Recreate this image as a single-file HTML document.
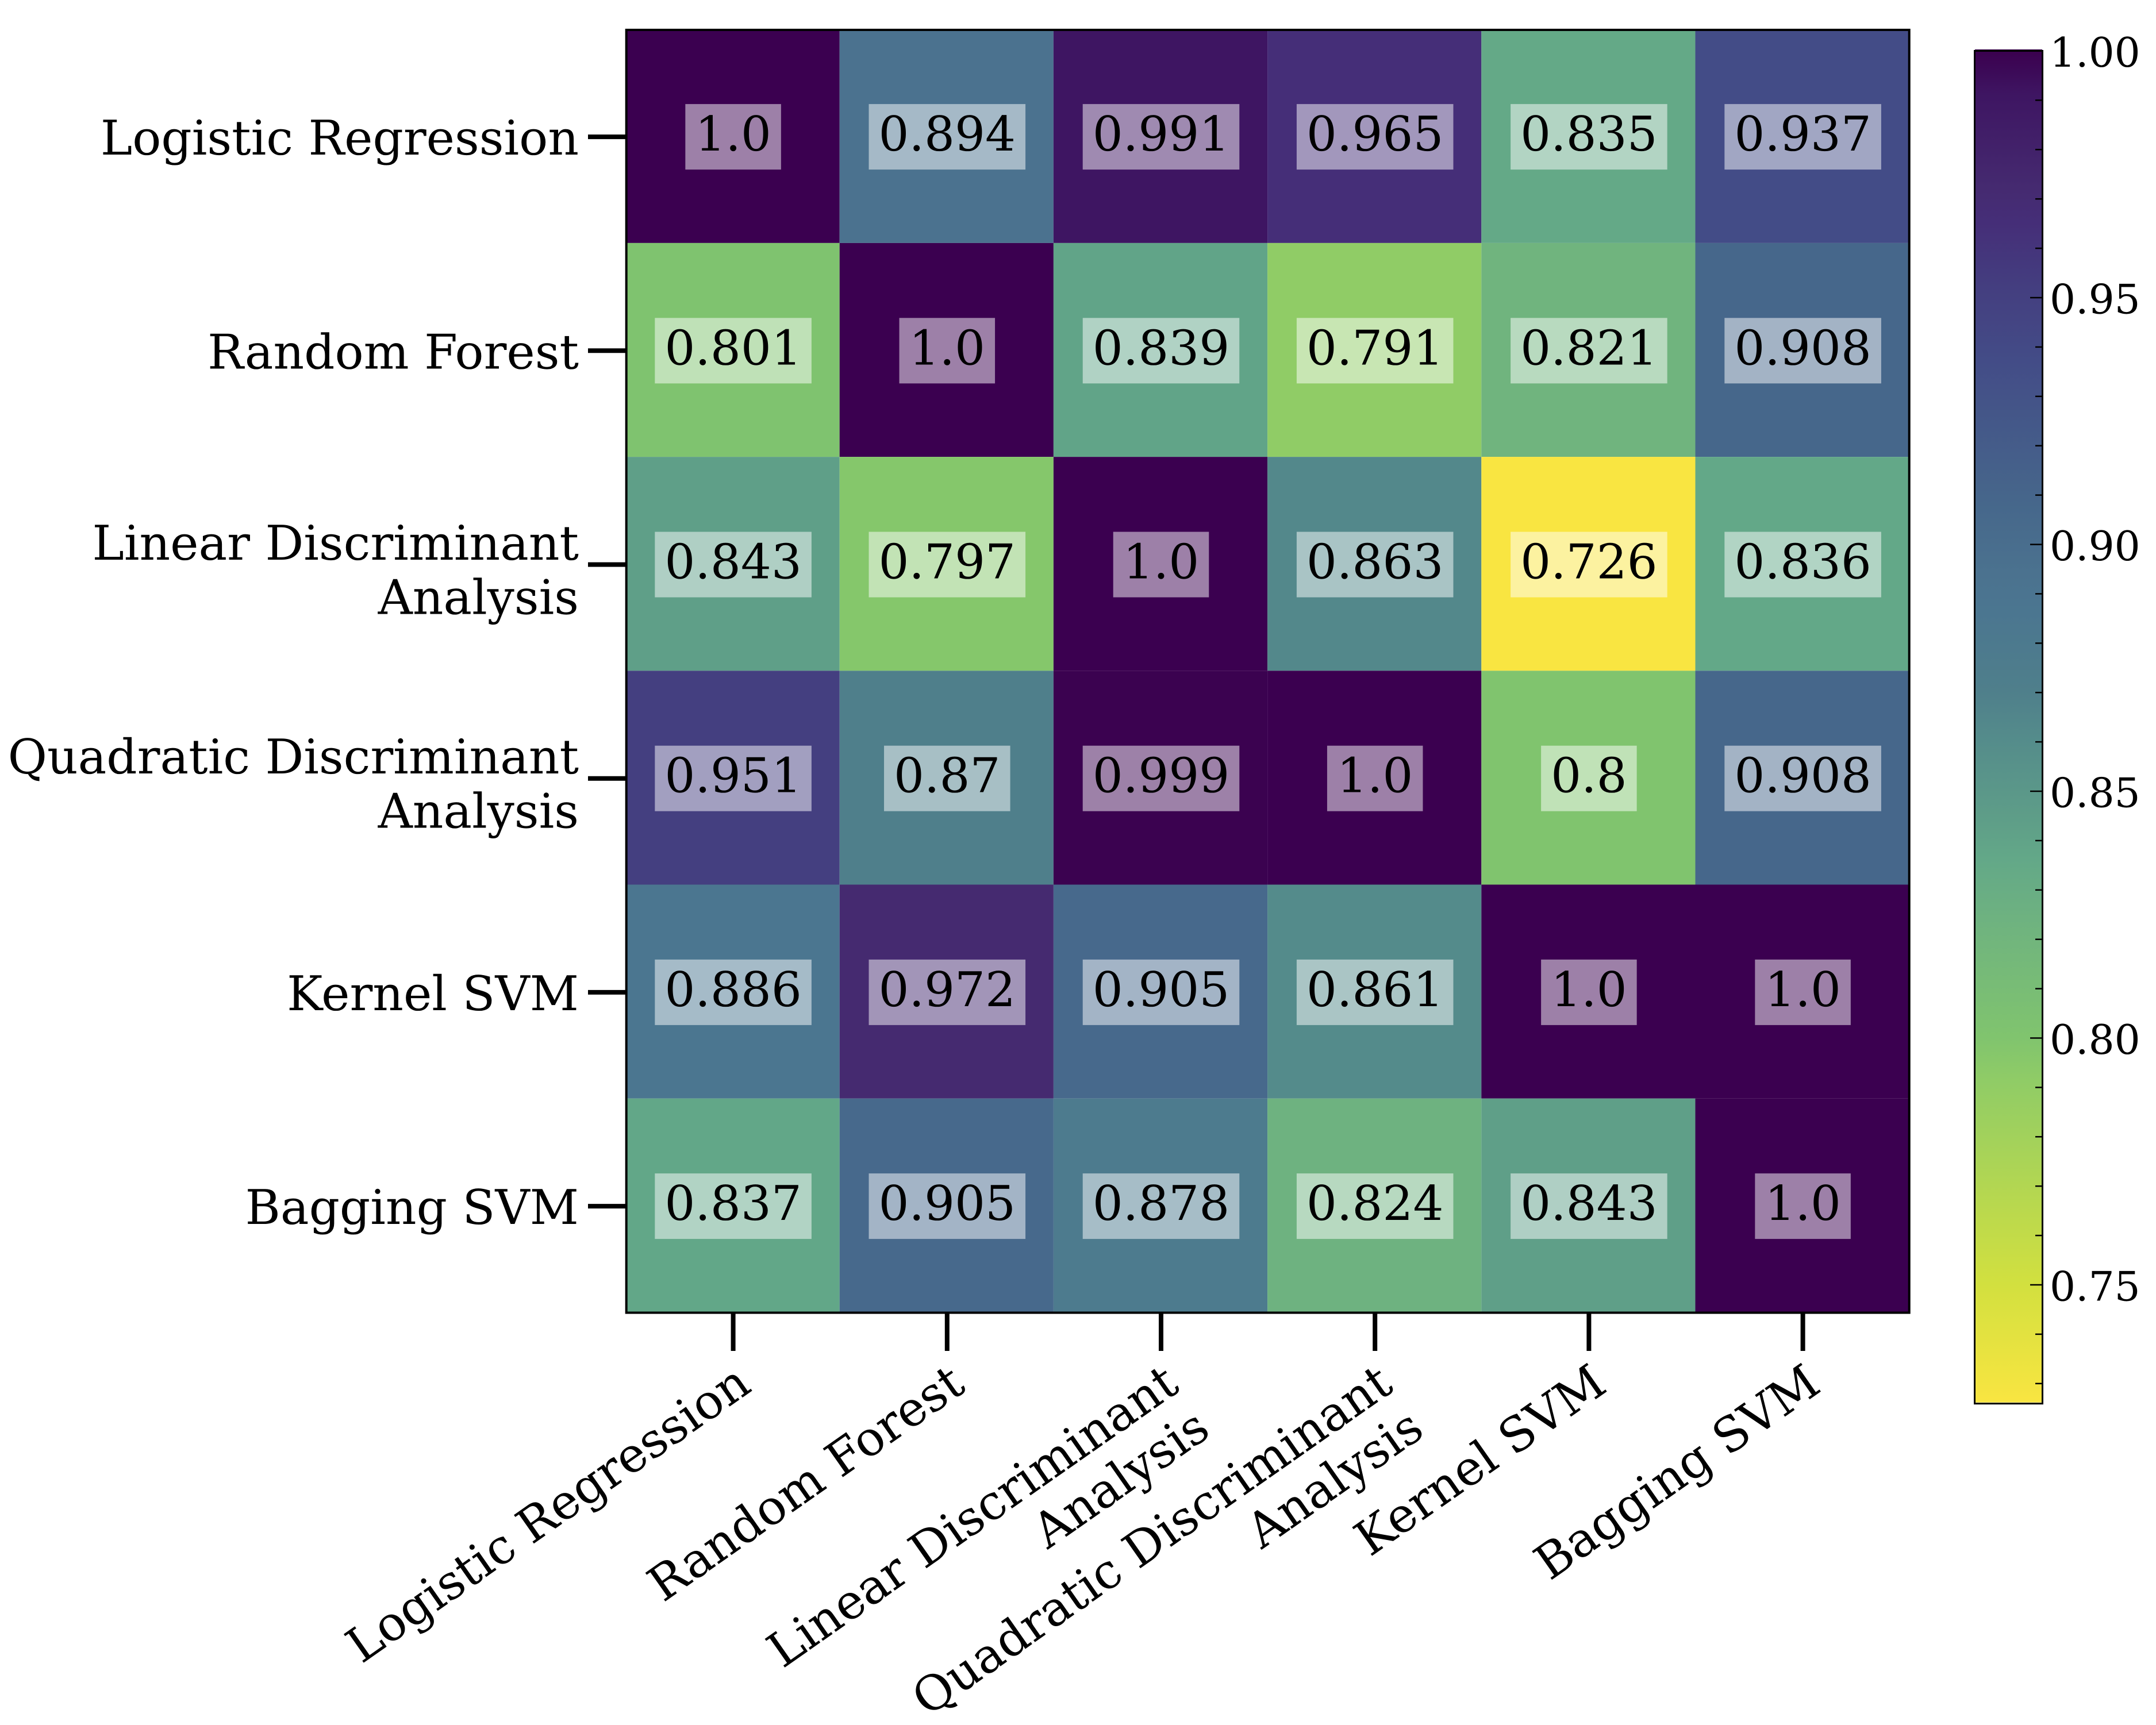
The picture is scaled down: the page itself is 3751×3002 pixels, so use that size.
<!DOCTYPE html>
<html lang="en">
<head>
<meta charset="utf-8">
<title>Classifier agreement heatmap</title>
<style>
  html, body { margin: 0; padding: 0; background: #ffffff; }
  #chart { display: block; width: 3751px; height: 3002px; }
  text { font-family: "DejaVu Serif", "Liberation Serif", serif; fill: #000000; text-rendering: geometricPrecision; }
</style>
</head>
<body>
<svg id="chart" xmlns="http://www.w3.org/2000/svg" width="3751" height="3002" viewBox="0 0 3751 3002">
  <rect x="0" y="0" width="3751" height="3002" fill="#ffffff"></rect>
  <defs>
    <linearGradient id="cbar-gradient" x1="0" y1="0" x2="0" y2="1"></linearGradient>
  </defs>
  <g id="cells"></g>
  <g id="annotations"></g>
  <rect x="1089.7" y="52" width="2232" height="2232.5" fill="none" stroke="#000000" stroke-width="4"></rect>
  <g id="y-axis"></g>
  <g id="x-axis"></g>
  <g id="colorbar"></g>
</svg>
<script>
const categories = [
  ["Logistic Regression"],
  ["Random Forest"],
  ["Linear Discriminant", "Analysis"],
  ["Quadratic Discriminant", "Analysis"],
  ["Kernel SVM"],
  ["Bagging SVM"]
];
const row0 = [1.0, 0.894, 0.991, 0.965, 0.835, 0.937];
const row1 = [0.801, 1.0, 0.839, 0.791, 0.821, 0.908];
const row2 = [0.843, 0.797, 1.0, 0.863, 0.726, 0.836];
const row3 = [0.951, 0.87, 0.999, 1.0, 0.8, 0.908];
const row4 = [0.886, 0.972, 0.905, 0.861, 1.0, 1.0];
const row5 = [0.837, 0.905, 0.878, 0.824, 0.843, 1.0];
const colorbarMajorTicks = [1.0, 0.95, 0.90, 0.85, 0.80, 0.75];
const colorbarTickLabels = ["1.00", "0.95", "0.90", "0.85", "0.80", "0.75"];
const colorbarMinorTicks = [0.99, 0.98, 0.97, 0.96, 0.94, 0.93, 0.92, 0.91, 0.89, 0.88, 0.87, 0.86, 0.84, 0.83, 0.82, 0.81, 0.79, 0.78, 0.77, 0.76, 0.74, 0.73];
const colorDomain = [0.726, 1.0];
const colormapValues = [1.0, 0.999, 0.991, 0.972, 0.965, 0.951, 0.937, 0.908, 0.894, 0.886, 0.87, 0.861, 0.843, 0.836, 0.824, 0.8, 0.791, 0.75, 0.726];
const colormapColors = ["#3b0050", "#3b0250", "#3e1562", "#452a70", "#452e78", "#443f80", "#434c87", "#46678b", "#4b728f", "#4b7690", "#4f7f8b", "#548b8b", "#5f9f88", "#63a888", "#6eb280", "#80c46e", "#90cc66", "#d2e03f", "#f9e541"];

const NS = "http://www.w3.org/2000/svg";
const rows = [row0, row1, row2, row3, row4, row5];

const plot = { left: 1089.5, top: 52, size: 372.2, cellLeft: 1088.5, cellTop: 50.7 };
const cbar = { left: 3436, right: 3553, top: 88.5, pxPerUnit: 8590 };
const xBand = i => plot.cellLeft + plot.size * i;
const yBand = i => plot.cellTop + plot.size * i;
const xCenter = i => plot.left + plot.size * (i + 0.5);
const yCenter = i => plot.top + plot.size * (i + 0.5);
const cbY = v => cbar.top + (colorDomain[1] - v) * cbar.pxPerUnit;

function hexToRgb(h) {
  return [parseInt(h.slice(1, 3), 16), parseInt(h.slice(3, 5), 16), parseInt(h.slice(5, 7), 16)];
}
function colorFor(v) {
  const n = colormapValues.length;
  if (v >= colormapValues[0]) return colormapColors[0];
  if (v <= colormapValues[n - 1]) return colormapColors[n - 1];
  for (let k = 0; k < n - 1; k++) {
    const hi = colormapValues[k], lo = colormapValues[k + 1];
    if (v <= hi && v >= lo) {
      const t = (hi - v) / (hi - lo);
      const a = hexToRgb(colormapColors[k]), b = hexToRgb(colormapColors[k + 1]);
      return "rgb(" + a.map((c, j) => Math.round(c + (b[j] - c) * t)).join(",") + ")";
    }
  }
  return colormapColors[n - 1];
}
function make(tag, attrs, parent, content) {
  const el = document.createElementNS(NS, tag);
  for (const key in attrs) el.setAttribute(key, attrs[key]);
  if (content !== undefined) el.textContent = content;
  parent.appendChild(el);
  return el;
}
function formatValue(v) {
  return Number.isInteger(v) ? v.toFixed(1) : String(v);
}

const cellsGroup = document.getElementById("cells");
const annotationGroup = document.getElementById("annotations");
const yAxisGroup = document.getElementById("y-axis");
const xAxisGroup = document.getElementById("x-axis");
const colorbarGroup = document.getElementById("colorbar");

/* heatmap cells and annotations */
rows.forEach((rowValues, r) => {
  rowValues.forEach((value, c) => {
    const cell = make("rect", { x: xBand(c), y: yBand(r), width: plot.size, height: plot.size, fill: colorFor(value) }, cellsGroup);
    
    

    const box = make("rect", { y: yCenter(r) - 57, height: 114, fill: "#ffffff", "fill-opacity": 0.5 }, annotationGroup);
    
    

    const label = make("text", { x: xCenter(c), y: yCenter(r) + 24, "font-size": 83.33, "text-anchor": "middle" }, annotationGroup, formatValue(value));
    
    

    const w = label.getComputedTextLength() + 34;
    box.setAttribute("x", xCenter(c) - w / 2);
    box.setAttribute("width", w);
  });
});

/* y axis */
categories.forEach((lines, i) => {
  const tick = make("line", { x1: 1023, x2: 1091, y1: yCenter(i), y2: yCenter(i), stroke: "#000000", "stroke-width": 8 }, yAxisGroup);
  
  

  const firstBaseline = lines.length > 1 ? yCenter(i) - 8.6 : yCenter(i) + 31;
  lines.forEach((line, k) => {
    const text = make("text", { x: 1007, y: firstBaseline + k * 94.5, "font-size": 83.33, "text-anchor": "end" }, yAxisGroup, line);
    
    
  });
});

/* x axis */
const angle = 35;
const rad = angle * Math.PI / 180;
categories.forEach((lines, i) => {
  const tick = make("line", { x1: xCenter(i), x2: xCenter(i), y1: 2285, y2: 2351, stroke: "#000000", "stroke-width": 8 }, xAxisGroup);
  
  

  lines.forEach((line, k) => {
    const ax = xCenter(i) + 35 + k * 94.5 * Math.sin(rad);
    const ay = 2419 + k * 94.5 * Math.cos(rad);
    const text = make("text", { x: ax, y: ay, "font-size": 83.33, "text-anchor": "end", transform: "rotate(" + (-angle) + " " + ax + " " + ay + ")" }, xAxisGroup, line);
    
    
  });
});

/* colorbar */
const gradient = document.getElementById("cbar-gradient");
colormapValues.forEach((v, k) => {
  const offset = (colorDomain[1] - v) / (colorDomain[1] - colorDomain[0]);
  make("stop", { offset: Math.min(1, Math.max(0, offset)), "stop-color": colormapColors[k] }, gradient);
});
const cbarFill = make("rect", { x: cbar.left, y: cbY(colorDomain[1]) - 2.5, width: cbar.right - cbar.left, height: cbY(colorDomain[0]) - cbY(colorDomain[1]) + 1, fill: "url(#cbar-gradient)" }, colorbarGroup);



colorbarMinorTicks.forEach(v => {
  const tick = make("line", { x1: 3541, x2: 3553, y1: cbY(v), y2: cbY(v), stroke: "#000000", "stroke-width": 2.5 }, colorbarGroup);
  
  
});
colorbarMajorTicks.forEach((v, k) => {
  const tick = make("line", { x1: 3532, x2: 3553, y1: cbY(v), y2: cbY(v), stroke: "#000000", "stroke-width": 2.5 }, colorbarGroup);
  
  

  const label = make("text", { x: 3566, y: cbY(v) + 27.5, "font-size": 70.83 }, colorbarGroup, colorbarTickLabels[k]);
  
  
});
const cbarFrame = make("rect", { x: cbar.left - 0.5, y: cbY(colorDomain[1]), width: cbar.right - cbar.left + 1, height: cbY(colorDomain[0]) - cbY(colorDomain[1]) + 0.5, fill: "none", stroke: "#000000", "stroke-width": 3 }, colorbarGroup);


</script>
</body>
</html>
